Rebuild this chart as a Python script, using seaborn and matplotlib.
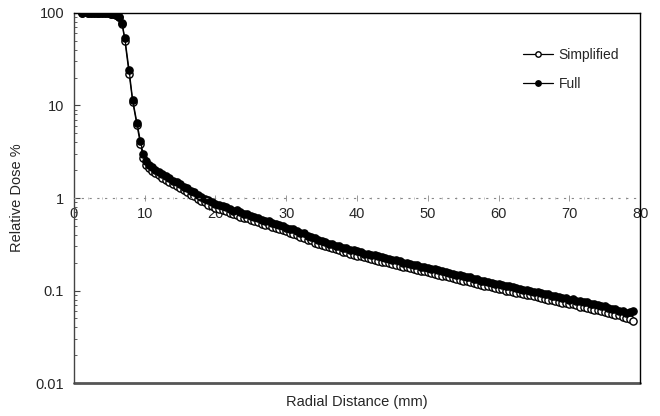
import numpy as np
import pandas as pd
import seaborn as sns
import matplotlib.pyplot as plt
from matplotlib.ticker import FixedLocator, LogLocator, NullFormatter

# Radial positions (mm)
radial_mm = [
    1.1, 2.0, 2.4, 2.8, 3.2, 3.6, 4.0, 4.4, 4.8, 5.2, 5.6, 6.0, 6.4, 6.8,
    7.2, 7.8, 8.3, 8.9, 9.4, 9.8, 10.2, 10.6, 11.0,
    11.5, 12.0, 12.5, 13.0, 13.5, 14.0, 14.5, 15.0, 15.5, 16.0, 16.5, 17.0,
    17.5, 18.0, 18.5, 19.0, 19.5, 20.0, 20.5, 21.0, 21.5, 22.0, 22.5, 23.0,
    23.5, 24.0, 24.5, 25.0, 25.5, 26.0, 26.5, 27.0, 27.5, 28.0, 28.5, 29.0,
    29.5, 30.0, 30.5, 31.0, 31.5, 32.0, 32.5, 33.0, 33.5, 34.0, 34.5, 35.0,
    35.5, 36.0, 36.5, 37.0, 37.5, 38.0, 38.5, 39.0, 39.5, 40.0, 40.5, 41.0,
    41.5, 42.0, 42.5, 43.0, 43.5, 44.0, 44.5, 45.0, 45.5, 46.0, 46.5, 47.0,
    47.5, 48.0, 48.5, 49.0, 49.5, 50.0, 50.5, 51.0, 51.5, 52.0, 52.5, 53.0,
    53.5, 54.0, 54.5, 55.0, 55.5, 56.0, 56.5, 57.0, 57.5, 58.0, 58.5, 59.0,
    59.5, 60.0, 60.5, 61.0, 61.5, 62.0, 62.5, 63.0, 63.5, 64.0, 64.5, 65.0,
    65.5, 66.0, 66.5, 67.0, 67.5, 68.0, 68.5, 69.0, 69.5, 70.0, 70.5, 71.0,
    71.5, 72.0, 72.5, 73.0, 73.5, 74.0, 74.5, 75.0, 75.5, 76.0, 76.5, 77.0,
    77.5, 78.0, 78.5, 79.0,
]

# Relative dose %, full model
dose_full = [
    100, 100, 100, 100, 100, 100, 100, 99.5, 99, 98, 97, 95, 91, 78,
    53, 24, 11.5, 6.5, 4.1, 3.0, 2.5, 2.3, 2.15,
    2.02, 1.90, 1.80, 1.72, 1.63, 1.52, 1.49, 1.40, 1.33, 1.27, 1.18, 1.15,
    1.07, 1.03, 0.98, 0.95, 0.90, 0.87, 0.84, 0.83, 0.79, 0.77, 0.73, 0.74,
    0.70, 0.68, 0.68, 0.64, 0.63, 0.61, 0.58, 0.57, 0.56, 0.54, 0.52, 0.51,
    0.50, 0.48, 0.46, 0.46, 0.44, 0.42, 0.42, 0.39, 0.38, 0.37, 0.355, 0.345,
    0.335, 0.32, 0.32, 0.305, 0.30, 0.29, 0.285, 0.275, 0.275, 0.265, 0.26, 0.25,
    0.25, 0.245, 0.24, 0.237, 0.228, 0.226, 0.22, 0.215, 0.212, 0.207, 0.20, 0.199,
    0.193, 0.19, 0.188, 0.181, 0.18, 0.176, 0.171, 0.169, 0.165, 0.162, 0.157, 0.156,
    0.152, 0.148, 0.147, 0.142, 0.14, 0.139, 0.134, 0.133, 0.128, 0.127, 0.124, 0.121,
    0.119, 0.117, 0.115, 0.112, 0.112, 0.108, 0.107, 0.105, 0.102, 0.101, 0.099, 0.097,
    0.096, 0.093, 0.092, 0.091, 0.088, 0.087, 0.086, 0.083, 0.083, 0.08, 0.081, 0.078,
    0.077, 0.075, 0.075, 0.072, 0.071, 0.070, 0.068, 0.068, 0.065, 0.064, 0.063, 0.060,
    0.060, 0.057, 0.058, 0.060,
]

# Relative dose %, simplified model
dose_simplified = [
    100, 100, 100, 100, 100, 100, 100, 99.5, 99, 98, 97, 95, 90, 76,
    50, 22, 11, 6.2, 3.8, 2.7, 2.3, 2.1, 1.95,
    1.85, 1.76, 1.66, 1.58, 1.49, 1.40, 1.34, 1.27, 1.21, 1.15, 1.09, 1.04,
    0.98, 0.93, 0.90, 0.85, 0.83, 0.78, 0.77, 0.74, 0.72, 0.69, 0.68, 0.66,
    0.63, 0.61, 0.61, 0.58, 0.57, 0.545, 0.53, 0.515, 0.51, 0.485, 0.47, 0.46,
    0.45, 0.435, 0.42, 0.405, 0.40, 0.38, 0.37, 0.355, 0.35, 0.33, 0.32, 0.31,
    0.305, 0.295, 0.285, 0.278, 0.272, 0.262, 0.258, 0.25, 0.245, 0.238, 0.235, 0.228,
    0.224, 0.22, 0.216, 0.211, 0.206, 0.202, 0.199, 0.194, 0.19, 0.186, 0.182, 0.178,
    0.175, 0.171, 0.168, 0.164, 0.161, 0.157, 0.155, 0.151, 0.148, 0.145, 0.142, 0.139,
    0.137, 0.133, 0.131, 0.128, 0.126, 0.123, 0.121, 0.118, 0.116, 0.113, 0.111, 0.108,
    0.107, 0.104, 0.103, 0.1, 0.099, 0.097, 0.095, 0.094, 0.092, 0.09, 0.089, 0.087,
    0.085, 0.083, 0.082, 0.08, 0.079, 0.077, 0.076, 0.074, 0.073, 0.071, 0.071, 0.069,
    0.067, 0.066, 0.065, 0.063, 0.062, 0.061, 0.06, 0.059, 0.057, 0.056, 0.055, 0.054,
    0.052, 0.051, 0.049, 0.047,
]

x_ticks = [0, 10, 20, 30, 40, 50, 60, 70, 80]
y_ticks = [0.01, 0.1, 1, 10, 100]
y_labels = ['0.01', '0.1', '1', '10', '100']

df = pd.DataFrame({'r': radial_mm, 'full': dose_full, 'simp': dose_simplified})

sns.set_style('white')
plt.rcParams['font.family'] = ['Liberation Sans', 'DejaVu Sans']

fig = plt.figure(figsize=(6.6, 4.16), dpi=100)
ax = fig.add_axes([0.112, 0.079, 0.858, 0.89])

sns.lineplot(data=df, x='r', y='simp', ax=ax, color='black', lw=0.9,
             marker='o', markersize=5.2, markerfacecolor='white',
             markeredgecolor='black', markeredgewidth=1.0, label='Simplified')
sns.lineplot(data=df, x='r', y='full', ax=ax, color='black', lw=0.9,
             marker='o', markersize=5.2, markerfacecolor='black',
             markeredgecolor='black', markeredgewidth=1.0, label='Full')

ax.set_yscale('log')
ax.set_ylim(0.01, 100)
ax.set_xlim(0, 80)
ax.set_yticks(y_ticks)
ax.set_yticklabels(y_labels)
ax.yaxis.set_minor_locator(LogLocator(base=10, subs=np.arange(2, 10)))
ax.yaxis.set_minor_formatter(NullFormatter())
ax.set_xticks(x_ticks)
ax.xaxis.set_minor_locator(FixedLocator(np.arange(0, 81, 2)))

# x axis crosses at 1 %
ax.spines['bottom'].set_position(('data', 1))
ax.spines['bottom'].set_linestyle((0, (1, 6)))
ax.spines['bottom'].set_color('#888888')
ax.spines['bottom'].set_linewidth(0.8)
ax.spines['left'].set_color('#444444')
ax.spines['left'].set_linewidth(1.0)
for s in ['top', 'right']:
    ax.spines[s].set_color('black')
    ax.spines[s].set_linewidth(1.0)
ax.plot([0, 1], [0, 0], transform=ax.transAxes, color='#555555', lw=2,
        clip_on=False)

ax.tick_params(axis='y', which='major', direction='in', length=4, width=0.8,
               color='#444444', labelsize=10.5, pad=7, left=True)
ax.tick_params(axis='y', which='minor', direction='in', length=2.5, width=0.6,
               color='#444444', left=True)
ax.tick_params(axis='x', which='major', direction='inout', length=5, width=0.6,
               color='#888888', labelsize=10.5, pad=4, bottom=True)
ax.tick_params(axis='x', which='minor', direction='inout', length=2, width=0.5,
               color='#aaaaaa', bottom=True)

ax.set_xlabel('Radial Distance (mm)', fontsize=10.5)
ax.set_ylabel('Relative Dose %', fontsize=10.5)
ax.xaxis.set_label_coords(0.5, -0.032)
ax.yaxis.set_label_coords(-0.088, 0.5)

leg = ax.legend(loc='upper left', bbox_to_anchor=(0.78, 0.925), frameon=False,
                fontsize=10, handlelength=2.2, handletextpad=0.4,
                labelspacing=1.1, borderpad=0, markerscale=0.75)

fig.savefig('out.png', dpi=100)
